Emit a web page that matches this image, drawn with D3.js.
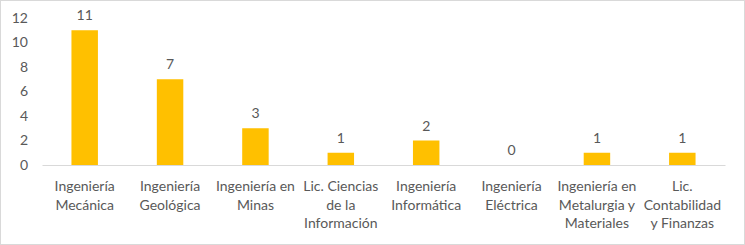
<!DOCTYPE html>
<html>
<head>
<meta charset="utf-8" />
<title>Carreras</title>
<style>
html, body {
    margin: 0px;
    padding: 0px;
    background: #fff;
}
svg {
    display: block;
    font-family: Lato, "Open Sans", sans-serif;
}
</style>
</head>
<body>
<svg id="chart" width="745" height="245"></svg>

<script src="https://d3js.org/d3.v7.min.js"></script>
<script>
// data
var categories = [
    "Ingeniería\nMecánica",
    "Ingeniería\nGeológica",
    "Ingeniería en\nMinas",
    "Lic. Ciencias\nde la\nInformación",
    "Ingeniería\nInformática",
    "Ingeniería\nEléctrica",
    "Ingeniería en\nMetalurgia y\nMateriales",
    "Lic.\nContabilidad\ny Finanzas"
]
var values = [11, 7, 3, 1, 2, 0, 1, 1]
var yTicks = [0, 2, 4, 6, 8, 10, 12]

var width = 745
var height = 245
var margin = {top: 18, left: 42, bottom: 80, right: 20}
var textColor = "#595959"
var fontSize = "14px"

var svg = d3.select("#chart")

// chart border
svg.append("rect")
    .attr("x", 0.5).attr("y", 0.5)
    .attr("width", width - 1).attr("height", height - 1)
    .attr("fill", "#fff")
    .attr("stroke", "#d9d9d9")

var xScale = d3.scaleBand()
    .domain(categories)
    .range([margin.left, width - margin.right])

var yScale = d3.scaleLinear()
    .domain([0, 12])
    .range([height - margin.bottom, margin.top])

var barW = xScale.bandwidth() * 0.31

// y axis (labels only)
var yAxis = svg.append("g")
    .attr("transform", "translate(" + [margin.left - 14, 0] + ")")
    .call(d3.axisLeft(yScale).tickValues(yTicks).tickSize(0).tickPadding(0))
yAxis.select(".domain").remove()
yAxis.selectAll("text")
    .attr("fill", textColor)
    .style("font-size", fontSize)
    .style("font-family", "Lato, 'Open Sans', sans-serif")

// bars
svg.selectAll(".bar")
    .data(values)
    .enter().append("rect")
    .attr("class", "bar")
    .attr("x", function(d, i){ return xScale(categories[i]) + xScale.bandwidth() / 2 - barW / 2 })
    .attr("y", function(d){ return yScale(d) })
    .attr("width", barW)
    .attr("height", function(d){ return yScale(0) - yScale(d) })
    .attr("fill", "#ffc000")

// x axis
var xAxis = svg.append("g")
    .attr("transform", "translate(" + [0, yScale(0)] + ")")
    .call(d3.axisBottom(xScale).tickSize(0).tickFormat(""))
xAxis.select(".domain").attr("stroke", "#d9d9d9")

// category labels, wrapped
var labels = svg.selectAll(".cat")
    .data(categories)
    .enter().append("text")
    .attr("class", "cat")
    .attr("text-anchor", "middle")
    .attr("fill", textColor)
    .style("font-size", fontSize)
    .attr("transform", function(d){ return "translate(" + [xScale(d) + xScale.bandwidth() / 2, yScale(0) + 26] + ")" })

labels.selectAll("tspan")
    .data(function(d){ return d.split("\n") })
    .enter().append("tspan")
    .attr("x", 0)
    .attr("y", function(d, i){ return i * 18.5 })
    .text(function(d){ return d })

// value labels
svg.selectAll(".val")
    .data(values)
    .enter().append("text")
    .attr("class", "val")
    .attr("text-anchor", "middle")
    .attr("fill", textColor)
    .style("font-size", fontSize)
    .attr("x", function(d, i){ return xScale(categories[i]) + xScale.bandwidth() / 2 })
    .attr("y", function(d){ return yScale(d) - 10 })
    .text(function(d){ return d })
</script>
</body>
</html>
